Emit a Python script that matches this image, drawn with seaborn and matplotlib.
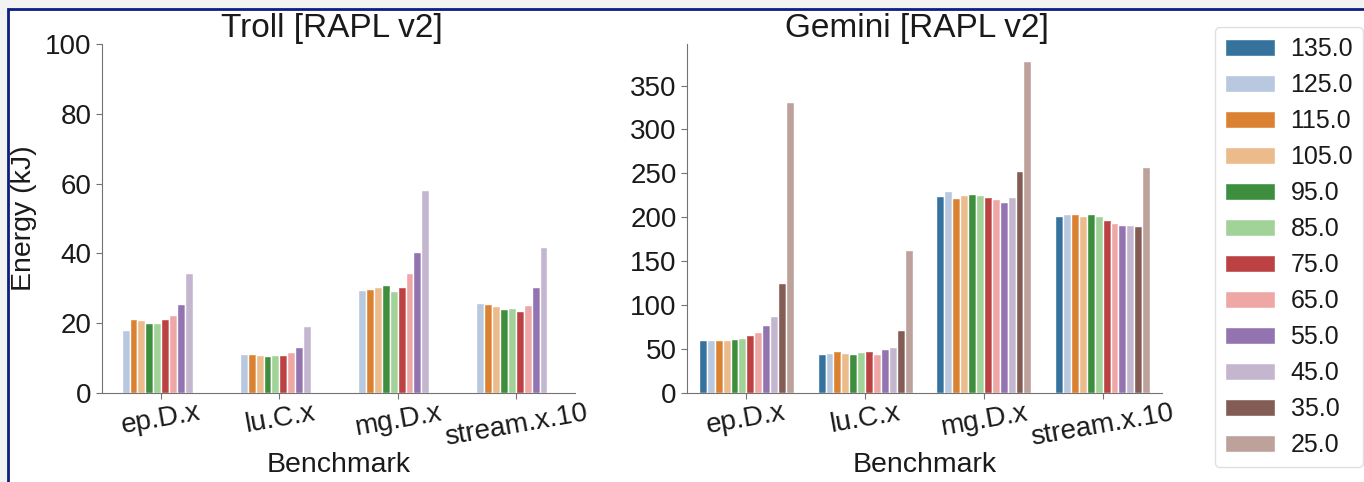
import matplotlib
matplotlib.use("Agg")
import matplotlib.pyplot as plt
import matplotlib.patches as mpatches
import numpy as np
import pandas as pd
import seaborn as sns

# --- data -------------------------------------------------------------
benchmarks = ["ep.D.x", "lu.C.x", "mg.D.x", "stream.x.10"]
power_caps = ["135.0", "125.0", "115.0", "105.0", "95.0", "85.0",
              "75.0", "65.0", "55.0", "45.0", "35.0", "25.0"]

# Troll: energy (kJ) per cap, caps 125.0 .. 45.0
troll_caps = ["125.0", "115.0", "105.0", "95.0", "85.0",
              "75.0", "65.0", "55.0", "45.0"]
troll_ep = [18.0, 21.1, 20.8, 20.2, 20.0, 21.3, 22.3, 25.4, 34.5]
troll_lu = [11.2, 11.2, 10.9, 10.5, 11.0, 10.8, 11.7, 13.3, 19.2]
troll_mg = [29.5, 29.8, 30.3, 30.9, 29.2, 30.3, 34.5, 40.3, 58.2]
troll_stream = [25.7, 25.6, 24.9, 24.1, 24.4, 23.5, 25.1, 30.4, 41.7]

# Gemini: energy (kJ) per cap, caps 135.0 .. 25.0
gemini_ep = [60.2, 60.0, 60.3, 60.2, 61.4, 62.5, 65.6, 69.3, 77.3, 87.5, 125.3, 331.8]
gemini_lu = [44.7, 45.8, 47.7, 45.8, 44.7, 46.6, 48.1, 44.3, 50.0, 52.3, 71.2, 162.5]
gemini_mg = [223.9, 229.9, 222.3, 225.0, 226.9, 225.0, 223.5, 220.5, 217.4, 222.7, 252.3, 378.4]
gemini_stream = [201.9, 203.8, 203.4, 201.9, 203.4, 201.1, 196.9, 193.5, 190.9, 191.3, 190.1, 257.2]


def long_table(caps, series):
    rows = []
    for bench, vals in zip(benchmarks, series):
        for cap, v in zip(caps, vals):
            rows.append({"Benchmark": bench, "Cap": cap, "Energy": v})
    return pd.DataFrame(rows)


troll_df = long_table(troll_caps, [troll_ep, troll_lu, troll_mg, troll_stream])
gemini_df = long_table(power_caps, [gemini_ep, gemini_lu, gemini_mg, gemini_stream])

# --- style --------------------------------------------------------------
sns.set_style("ticks", {"axes.edgecolor": "0.45",
                        "xtick.color": "0.45", "ytick.color": "0.45"})
plt.rcParams["font.family"] = ["Liberation Sans", "DejaVu Sans"]
plt.rcParams["xtick.labelcolor"] = "0.1"
plt.rcParams["ytick.labelcolor"] = "0.1"
plt.rcParams["text.color"] = "0.1"
plt.rcParams["axes.labelcolor"] = "0.1"
plt.rcParams["xtick.major.size"] = 4
plt.rcParams["ytick.major.size"] = 4

palette = sns.color_palette("tab20", len(power_caps))

W, H = 1364, 482
fig = plt.figure(figsize=(W / 100, H / 100), dpi=100)

# page background with a framed panel
fig.patches.append(mpatches.Rectangle((0, 0), 1, 1, transform=fig.transFigure,
                                      facecolor="#f3f3f3", edgecolor="none", zorder=-10))
fig.patches.append(mpatches.Rectangle((7.5 / W, -0.1), 1.2, 1.1 - 8.5 / H,
                                      transform=fig.transFigure, facecolor="white",
                                      edgecolor="#0d1f80", linewidth=2.0, zorder=-9))

ax1 = fig.add_axes([102 / W, 89 / H, 473 / W, 349 / H])
ax2 = fig.add_axes([687 / W, 89 / H, 475 / W, 349 / H])

sns.barplot(data=troll_df, x="Benchmark", y="Energy", hue="Cap",
            order=benchmarks, hue_order=power_caps, palette=palette,
            saturation=0.7, ax=ax1, legend=False)
sns.barplot(data=gemini_df, x="Benchmark", y="Energy", hue="Cap",
            order=benchmarks, hue_order=power_caps, palette=palette,
            saturation=0.7, ax=ax2)

ax1.set_ylim(0, 100)
ax1.set_yticks([0, 20, 40, 60, 80, 100])
ax2.set_yticks([0, 50, 100, 150, 200, 250, 300, 350])

ax1.set_title("Troll [RAPL v2]", fontsize=24, pad=3, x=0.485)
ax2.set_title("Gemini [RAPL v2]", fontsize=24, pad=3, x=0.485)
ax1.set_ylabel("Energy (kJ)", fontsize=20.5, labelpad=6)
ax2.set_ylabel("")
for ax in (ax1, ax2):
    ax.set_xlabel("Benchmark", fontsize=20.5, labelpad=1)
    ax.tick_params(axis="y", labelsize=20)
    ax.tick_params(axis="x", labelsize=20, pad=1)
    for lbl in ax.get_xticklabels():
        lbl.set_rotation(10)
    sns.despine(ax=ax)

handles = ax2.get_legend().legend_handles
labels = [t.get_text() for t in ax2.get_legend().get_texts()]
ax2.get_legend().remove()
fig.legend(handles, labels, loc="upper left",
           bbox_to_anchor=(1215 / W, 1 - 27 / H), borderaxespad=0,
           fontsize=18, frameon=True, fancybox=True, edgecolor="0.85",
           labelspacing=0.48, handlelength=2.0, handleheight=0.7,
           borderpad=0.4, handletextpad=0.62)

fig.savefig("out.png", dpi=100)
